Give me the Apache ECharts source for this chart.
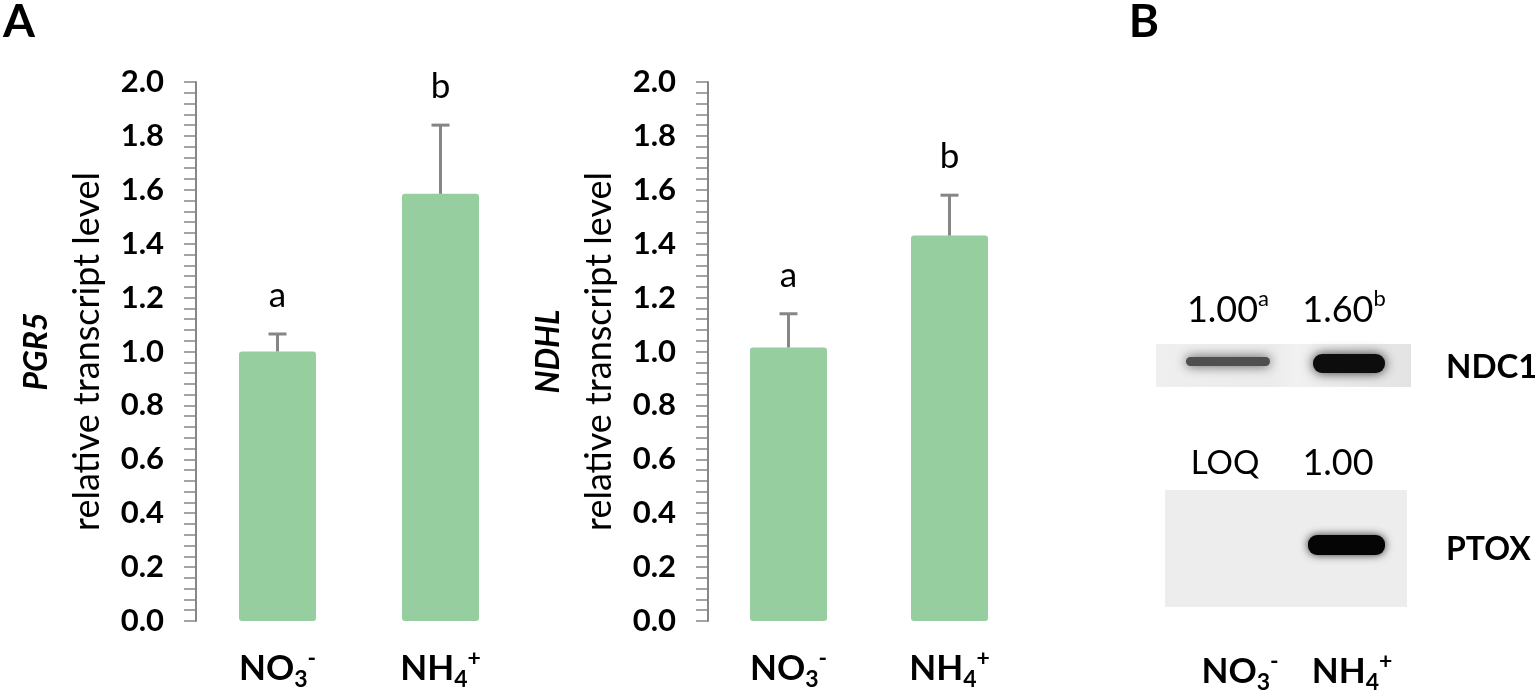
<!DOCTYPE html>
<html>
<head>
<meta charset="utf-8">
<script src="https://cdn.jsdelivr.net/npm/echarts@6/dist/echarts.min.js"></script>
<style>
  html, body { margin: 0; background: #fff; }
  #chart { width: 1535px; height: 691px; }
</style>
</head>
<body>
<div id="chart"></div>
<script>
// qPCR data, panel A
const categories = ['NO3', 'NH4']
const pgr5Mean = [1.0, 1.585]
const pgr5Err = [0.065, 0.255]
const pgr5Letters = ['a', 'b']
const ndhlMean = [1.015, 1.43]
const ndhlErr = [0.125, 0.15]
const ndhlLetters = ['a', 'b']
const yMin = 0
const yMax = 2
const yStep = 0.2

// immunoblot quantification, panel B
const ndc1Values = ['1.00', '1.60']
const ndc1Letters = ['a', 'b']
const ptoxValues = ['LOQ', '1.00']

const FONT = 'Lato'
const BAR = '#96cea0'
const GREY = '#868686'

const ionLabel = (v) => v === 'NO3' ? '{b|NO}{sub|3}{sup|-}' : '{b|NH}{sub|4}{sup|+}'
const ionRich = {
  b: { fontFamily: FONT, fontWeight: 'bold', fontSize: 35, lineHeight: 44, color: '#000' },
  sub: { fontFamily: FONT, fontWeight: 'bold', fontSize: 23, lineHeight: 44, verticalAlign: 'bottom', color: '#000' },
  sup: { fontFamily: FONT, fontWeight: 'bold', fontSize: 23, lineHeight: 44, verticalAlign: 'top', color: '#000' },
}

function xAxisFor(idx) {
  return {
    type: 'category', gridIndex: idx, data: categories,
    axisLine: { show: false }, axisTick: { show: false },
    axisLabel: { margin: 26, formatter: ionLabel, rich: ionRich },
  }
}

function yAxisFor(idx, gene) {
  return {
    type: 'value', gridIndex: idx, min: yMin, max: yMax, interval: yStep,
    name: `{g|${gene}}\n{t|relative transcript level}`,
    nameLocation: 'middle', nameRotate: 90, nameGap: 84,
    nameTextStyle: {
      rich: {
        g: { fontFamily: FONT, fontWeight: 'bold', fontStyle: 'italic', fontSize: 32, lineHeight: 50, color: '#000' },
        t: { fontFamily: FONT, fontSize: 36, lineHeight: 50, color: '#000' },
      },
    },
    axisLine: { show: true, lineStyle: { color: GREY, width: 2 } },
    axisTick: { show: true, length: 12, lineStyle: { color: GREY, width: 1.5 } },
    minorTick: { show: true, splitNumber: 5, length: 12, lineStyle: { color: GREY, width: 1.5 } },
    splitLine: { show: false },
    axisLabel: {
      margin: 32, fontFamily: FONT, fontWeight: 'bold', fontSize: 31, color: '#000',
      formatter: (v) => v.toFixed(1),
    },
  }
}

function errorSeries(idx, mean, err, letters) {
  return {
    type: 'custom', xAxisIndex: idx, yAxisIndex: idx, z: 5,
    data: mean.map((m, i) => [i, m, err[i]]),
    renderItem: (params, api) => {
      const i = api.value(0)
      const base = api.coord([i, api.value(1)])
      const top = api.coord([i, api.value(1) + api.value(2)])
      const lineStyle = { stroke: GREY, lineWidth: 3 }
      return {
        type: 'group',
        children: [
          { type: 'line', shape: { x1: base[0], y1: base[1], x2: top[0], y2: top[1] }, style: lineStyle },
          { type: 'line', shape: { x1: top[0] - 9, y1: top[1], x2: top[0] + 9, y2: top[1] }, style: lineStyle },
          {
            type: 'text',
            style: {
              text: letters[params.dataIndex], x: top[0], y: top[1] - 38,
              align: 'center', verticalAlign: 'middle', textAlign: 'center', textVerticalAlign: 'middle',
              fontFamily: FONT, fontSize: 35, fill: '#000',
            },
          },
        ],
      }
    },
  }
}

function barSeries(idx, mean) {
  return {
    type: 'bar', xAxisIndex: idx, yAxisIndex: idx, data: mean, barWidth: 77,
    itemStyle: { color: BAR, borderRadius: 3 },
  }
}

const txt = (text, x, y, opts = {}) => ({
  type: 'text', x, y,
  style: Object.assign({ text, fontFamily: FONT, fontSize: 30, fill: '#000', align: 'center', verticalAlign: 'middle' }, opts),
})
const supRich = {
  n: { fontFamily: FONT, fontSize: 36, lineHeight: 44, color: '#000' },
  s: { fontFamily: FONT, fontSize: 22, lineHeight: 44, verticalAlign: 'top', color: '#000' },
}

const blot = [
  // NDC1 membrane
  {
    type: 'rect', shape: { x: 1156, y: 344, width: 255, height: 43 },
    style: {
      fill: new echarts.graphic.LinearGradient(0, 0, 1, 0, [
        { offset: 0, color: '#efefef' }, { offset: 0.45, color: '#ebebeb' },
        { offset: 0.55, color: '#f1f1f1' }, { offset: 1, color: '#e3e3e3' },
      ]),
    },
  },
  {
    type: 'rect', shape: { x: 1186, y: 357, width: 84, height: 9, r: 4.5 },
    style: { fill: '#4f4f4f', shadowBlur: 12, shadowColor: 'rgba(60,60,60,0.9)' },
  },
  {
    type: 'rect', shape: { x: 1313, y: 354, width: 72, height: 19, r: 9 },
    style: { fill: '#0d0d0d', shadowBlur: 12, shadowColor: 'rgba(0,0,0,0.8)' },
  },
  // PTOX membrane
  { type: 'rect', shape: { x: 1165, y: 490, width: 242, height: 117 }, style: { fill: '#ededed' } },
  {
    type: 'rect', shape: { x: 1308, y: 535, width: 77, height: 20, r: 9 },
    style: { fill: '#050505', shadowBlur: 9, shadowColor: 'rgba(0,0,0,0.8)' },
  },
  // lane values
  txt(`{n|${ndc1Values[0]}}{s|${ndc1Letters[0]}}`, 1228, 310, { rich: supRich }),
  txt(`{n|${ndc1Values[1]}}{s|${ndc1Letters[1]}}`, 1344, 310, { rich: supRich }),
  txt(ptoxValues[0], 1225, 463, { fontSize: 33 }),
  txt(ptoxValues[1], 1338, 463, { fontSize: 36 }),
  txt('NDC1', 1446, 367, { fontWeight: 'bold', fontSize: 33, align: 'left' }),
  txt('PTOX', 1446, 550, { fontWeight: 'bold', fontSize: 32, align: 'left' }),
  txt(ionLabel(categories[0]), 1240, 672, { rich: ionRich }),
  txt(ionLabel(categories[1]), 1352, 672, { rich: ionRich }),
  // panel letters
  txt('A', 19, 22, { fontWeight: 'bold', fontSize: 46 }),
  txt('B', 1144, 22, { fontWeight: 'bold', fontSize: 46 }),
]

const chart = echarts.init(document.getElementById('chart'))
chart.setOption({
  animation: false,
  textStyle: { fontFamily: FONT },
  grid: [
    { left: 196, top: 82, width: 326, height: 543 },
    { left: 708, top: 82, width: 322, height: 543 },
  ],
  xAxis: [xAxisFor(0), xAxisFor(1)],
  yAxis: [yAxisFor(0, 'PGR5'), yAxisFor(1, 'NDHL')],
  series: [
    barSeries(0, pgr5Mean), errorSeries(0, pgr5Mean, pgr5Err, pgr5Letters),
    barSeries(1, ndhlMean), errorSeries(1, ndhlMean, ndhlErr, ndhlLetters),
  ],
  graphic: blot,
})
window.addEventListener('resize', () => chart.resize())
</script>
</body>
</html>
